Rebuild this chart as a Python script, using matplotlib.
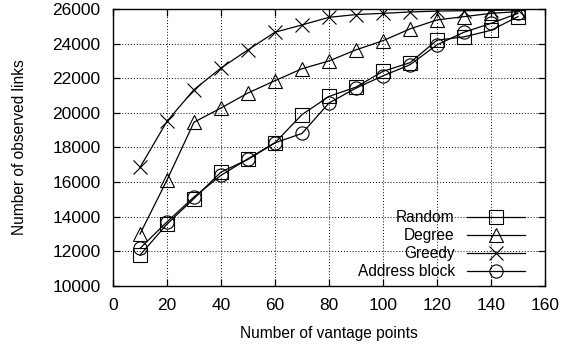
import matplotlib
matplotlib.use("Agg")
import matplotlib.pyplot as plt
import numpy as np

plt.rcParams["font.family"] = ["Liberation Sans", "DejaVu Sans"]
plt.rcParams["font.size"] = 11

# number of vantage points
vantage = [10, 20, 30, 40, 50, 60, 70, 80, 90, 100, 110, 120, 130, 140, 150]

# observed links per selection strategy
random_links = [11780, 13570, 15050, 16580, 17310, 18270, 19900, 20950, 21490,
                22400, 22900, 24200, 24390, 24770, 25560]
degree_links = [13000, 16120, 19460, 20280, 21150, 21860, 22550, 23000, 23640,
                24170, 24850, 25370, 25560, 25750, 25850]
greedy_links = [16850, 19510, 21340, 22590, 23640, 24660, 25080, 25520, 25680,
                25750, 25830, 25880, 25900, 25920, 25950]
address_links = [12170, 13700, 15140, 16390, 17350, 18270, 18810, 20570, 21430,
                 22140, 22780, 23930, 24660, 25170, 25750]

series = [
    ("Random", random_links, "s"),
    ("Degree", degree_links, "^"),
    ("Greedy", greedy_links, "x"),
    ("Address block", address_links, "o"),
]

fig = plt.figure(figsize=(5.63, 3.47), dpi=100)
ax = fig.add_axes([0.2007, 0.176, 0.7673, 0.798])

for label, vals, mk in series:
    ax.plot(vantage, vals, color="black", lw=0.9, marker=mk, markersize=9.5,
            markerfacecolor="none", markeredgecolor="black", markeredgewidth=0.8,
            label=label)

ax.set_xlim(0, 160)
ax.set_ylim(10000, 26000)
ax.set_xticks(np.arange(0, 161, 20))
ax.set_yticks(np.arange(10000, 26001, 2000))
ax.grid(True, color="black", linestyle=(0, (1, 2)), linewidth=0.7)
ax.tick_params(direction="in", top=True, right=True, length=5, width=0.9,
               labelsize=12.5)
ax.tick_params(axis="x", pad=9)
ax.tick_params(axis="y", pad=9)
for sp in ax.spines.values():
    sp.set_linewidth(1.0)

ax.set_xlabel("Number of vantage points", fontsize=11.2, labelpad=9)
ax.set_ylabel("Number of observed links", fontsize=11.2, labelpad=18)

# text on the left, sample line on the right, labels flush against the lines
ax.legend(loc="lower right", bbox_to_anchor=(0.953, 0.025), frameon=False,
          markerfirst=False, handlelength=3.7, handletextpad=0.8,
          labelspacing=0.19, borderaxespad=0, borderpad=0, fontsize=11.2)

fig.savefig("out.png", dpi=100)
